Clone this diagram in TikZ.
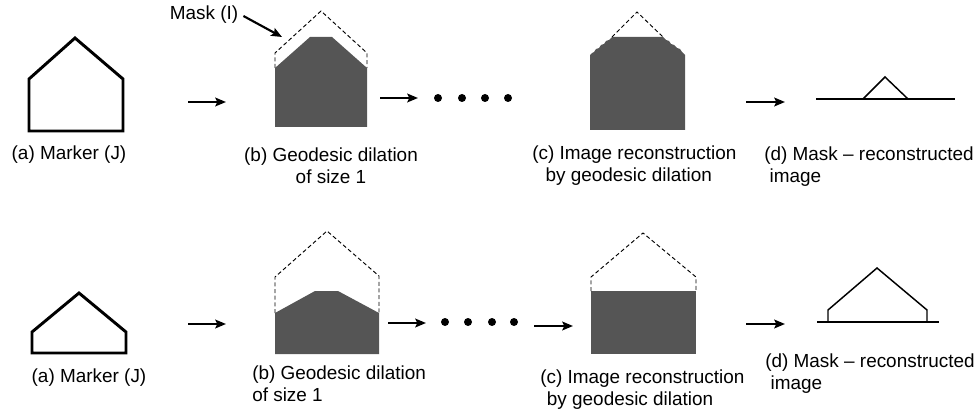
\documentclass[tikz,border=0pt]{standalone}
\usepackage{xcolor}
\usepackage{fontspec}
\setmainfont{Liberation Sans}
\usepackage{tikz}
\usetikzlibrary{arrows.meta,positioning}

\definecolor{fillgray}{RGB}{85,85,85}

\tikzset{
    marker/.style={line width=2.2pt, line join=miter},
    maskline/.style={dash pattern=on 3pt off 2pt, line width=0.7pt},
    thinline/.style={line width=1.1pt},
    steparrow/.style={line width=1.8pt, -{Stealth[length=8pt,width=6.5pt,inset=1.5pt]}},
    caption/.style={font=\fontsize{14.2}{16.5}\selectfont, inner sep=0pt},
    bigdot/.style={circle, fill=black, inner sep=0pt, minimum size=6pt}
}

\begin{document}
\begin{tikzpicture}[x=0.75pt, y=-0.75pt]

                \useasboundingbox (0,0) rectangle (977,413);

                % ---- top row ----
                \draw[
                    marker
                ] (29,131) -- (29,79) -- (75,38) -- (123,79) -- (123,131) -- cycle;
                \node[caption] (capA1) at (69,155) {(a) Marker (J)};

                \coordinate (a1s) at (188,102);
                \coordinate (a1e) at (226,102);
                \draw[steparrow] (a1s) -- (a1e);

                \fill[
                    fillgray
                ] (275,127) -- (275,68) -- (310,37) -- (332,37) -- (367,68) -- (367,127) -- cycle;
                \draw[
                    maskline
                ] (275,68) -- (275,53) -- (321,11) -- (367,53) -- (367,68);
                \node[caption, align=center] (capB1) at (331,166) {(b) Geodesic dilation\\of size 1};

                \node[caption] (maskI) at (204,15) {Mask (I)};
                \coordinate (masktip) at (282,37);
                \draw[steparrow, line width=1.6pt] (maskI.east) ++(5,1) -- (masktip);

                \coordinate (a2s) at (380,98);
                \coordinate (a2e) at (418,98);
                \draw[steparrow] (a2s) -- (a2e);

                \foreach \i/\x in {1/438,2/462,3/485,4/508}
                    \node[bigdot] (dotA\i) at (\x,98) {};

                \fill[
                    fillgray
                ] (590,130) -- (590,55) -- (592,53) -- (594,52) -- (596,49) -- (599,48) -- (601,45)
                  -- (604,44) -- (606,41) -- (609,40) -- (612,37) -- (663,37) -- (666,40) -- (669,41)
                  -- (671,44) -- (674,45) -- (677,48) -- (680,49) -- (682,52) -- (685,55) -- (685,130) -- cycle;
                \draw[
                    maskline
                ] (612,37) -- (637,12) -- (663,37);
                \node[caption, align=left, anchor=west] (capC1) at (532,166) {(c) Image reconstruction\\\hspace*{10pt}by geodesic dilation};

                \coordinate (a3s) at (746,102);
                \coordinate (a3e) at (785,102);
                \draw[steparrow] (a3s) -- (a3e);

                \draw[thinline] (816,99) -- (955,99);
                \draw[thinline] (863,99) -- (885,77) -- (908,99);
                \node[caption, align=left, anchor=west] (capD1) at (764,167) {(d) Mask -- reconstructed\\\hspace*{4pt}image};

                % ---- bottom row ----
                \draw[
                    marker
                ] (32,353) -- (32,332) -- (79,293) -- (126,332) -- (126,353) -- cycle;
                \node[caption] (capA2) at (89,378) {(a) Marker (J)};

                \coordinate (b1s) at (188,324);
                \coordinate (b1e) at (226,324);
                \draw[steparrow] (b1s) -- (b1e);

                \fill[
                    fillgray
                ] (275,354) -- (275,313) -- (315,291) -- (338,291) -- (379,313) -- (379,354) -- cycle;
                \draw[
                    maskline
                ] (275,313) -- (275,277) -- (327,231) -- (379,276) -- (379,313);
                \node[caption, align=left, anchor=west] (capB2) at (252,384) {(b) Geodesic dilation\\of size 1};

                \coordinate (b2s) at (388,323);
                \coordinate (b2e) at (426,323);
                \draw[steparrow] (b2s) -- (b2e);

                \foreach \i/\x in {1/445,2/468,3/492,4/514}
                    \node[bigdot] (dotB\i) at (\x,322) {};

                \coordinate (b3s) at (534,326);
                \coordinate (b3e) at (573,326);
                \draw[steparrow] (b3s) -- (b3e);

                \fill[
                    fillgray
                ] (591,291) rectangle (696,354);
                \draw[
                    maskline
                ] (591,291) -- (591,277) -- (643,233) -- (696,277) -- (696,291);
                \node[caption, align=left, anchor=west] (capC2) at (540,390) {(c) Image reconstruction\\\hspace*{5pt}by geodesic dilation};

                \coordinate (b4s) at (746,324);
                \coordinate (b4e) at (785,324);
                \draw[steparrow] (b4s) -- (b4e);

                \draw[thinline] (817,322) -- (939,322);
                \draw[thinline] (828,322) -- (828,310) -- (877,268) -- (927,310) -- (927,322);
                \node[caption, align=left, anchor=west] (capD2) at (765,374) {(d) Mask -- reconstructed\\\hspace*{4pt}image};

\end{tikzpicture}
\end{document}
